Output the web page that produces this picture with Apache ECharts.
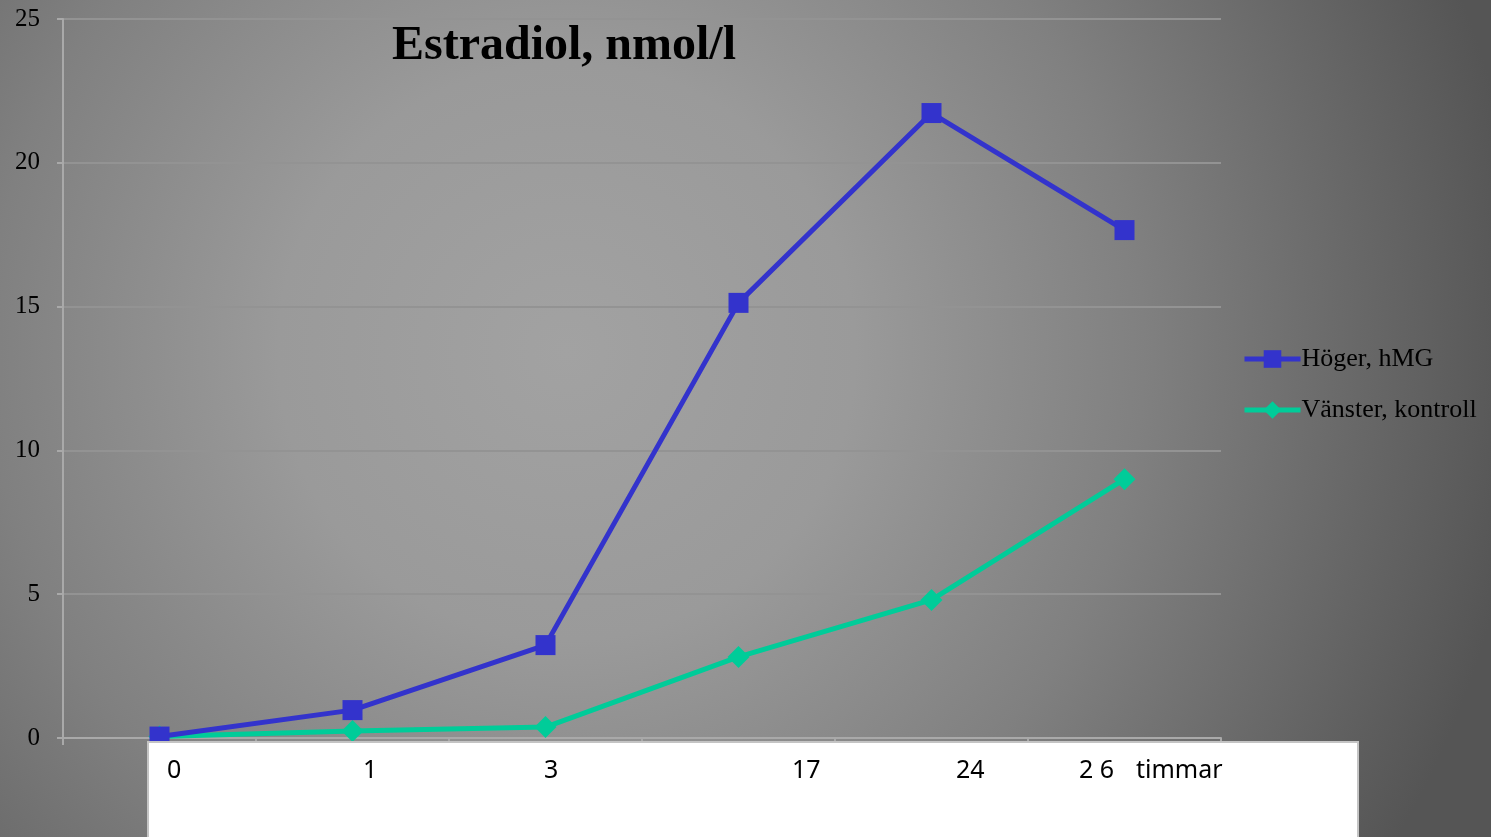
<!DOCTYPE html>
<html>
<head>
<meta charset="utf-8">
<style>
  html, body { margin: 0; padding: 0; width: 1491px; height: 837px; overflow: hidden; }
  #chart { width: 1491px; height: 837px; }
</style>
<script src="https://cdn.jsdelivr.net/npm/echarts@6/dist/echarts.min.js"></script>
</head>
<body>
<div id="chart"></div>
<script>
// Sampling times (hours) and estradiol values, nmol/l
const categories = ['0', '1', '3', '17', '24', '26'];
const hogerHmg = [0.05, 0.97, 3.23, 15.13, 21.73, 17.66];
const vansterKontroll = [0.05, 0.24, 0.38, 2.82, 4.8, 9.0];
const yTicks = [0, 5, 10, 15, 20, 25];

// Hour labels printed in the white caption box under the axis
const boxLabels = ['0', '1', '3', '17', '24', '2 6', 'timmar'];
const boxLabelX = [167, 363, 544, 792, 956, 1079, 1136];

const chart = echarts.init(document.getElementById('chart'), null, { renderer: 'canvas' });

const serif = "'Liberation Serif', 'Times New Roman', serif";
const sans = "'Liberation Sans Narrow', 'Noto Sans', 'Open Sans', sans-serif";

const captionTexts = boxLabels.map((t, i) => ({
  type: 'text',
  left: boxLabelX[i],
  top: 758,
  z: 20,
  style: { text: t, fill: '#000', font: '25px ' + sans }
}));

chart.setOption({
  animation: false,
  backgroundColor: {
    type: 'radial', x: 0.38, y: 0.42, r: 1.15,
    colorStops: [
      { offset: 0, color: '#a2a2a2' },
      { offset: 0.3, color: '#9a9a9a' },
      { offset: 0.6, color: '#808080' },
      { offset: 1, color: '#555555' }
    ]
  },
  title: {
    text: 'Estradiol, nmol/l',
    left: 387, top: 18,
    textStyle: { fontFamily: serif, fontWeight: 'bold', fontSize: 48, color: '#000' }
  },
  legend: {
    orient: 'vertical',
    left: 1242, top: 346, padding: 0,
    itemWidth: 56, itemHeight: 22, itemGap: 25,
    lineStyle: { width: 5 },
    textStyle: { fontFamily: serif, fontSize: 26, color: '#000', padding: [0, 0, 0, -4] },
    data: ['Höger, hMG', 'Vänster, kontroll']
  },
  grid: { left: 63, right: 270, top: 19, bottom: 99, containLabel: false },
  xAxis: {
    type: 'category',
    data: categories,
    boundaryGap: true,
    axisLine: { lineStyle: { color: '#a9a9a9', width: 2 } },
    axisTick: { show: true, length: 7, lineStyle: { color: '#a9a9a9', width: 2 } },
    axisLabel: { show: false }
  },
  yAxis: {
    type: 'value',
    min: 0, max: 25, interval: 5,
    axisLine: { show: true, lineStyle: { color: '#a9a9a9', width: 2 } },
    axisTick: { show: true, length: 6, lineStyle: { color: '#a9a9a9', width: 2 } },
    splitLine: { lineStyle: { color: '#939393', width: 2 } },
    axisLabel: {
      margin: 23,
      fontFamily: serif, fontSize: 25, color: '#000',
      formatter: v => (yTicks.indexOf(v) >= 0 ? String(v) : '')
    }
  },
  series: [
    {
      name: 'Höger, hMG',
      type: 'line',
      data: hogerHmg,
      symbol: 'rect', symbolSize: 20,
      lineStyle: { color: '#3333cc', width: 5 },
      itemStyle: { color: '#3333cc' },
      z: 3
    },
    {
      name: 'Vänster, kontroll',
      type: 'line',
      data: vansterKontroll,
      symbol: 'diamond', symbolSize: 22,
      lineStyle: { color: '#00cc99', width: 5 },
      itemStyle: { color: '#00cc99' },
      z: 2
    }
  ],
  graphic: [
    {
      type: 'rect',
      shape: { x: 148, y: 742, width: 1210, height: 110 },
      style: { fill: '#ffffff', stroke: '#c4c4c4', lineWidth: 2 },
      z: 10
    }
  ].concat(captionTexts)
});
</script>
</body>
</html>
